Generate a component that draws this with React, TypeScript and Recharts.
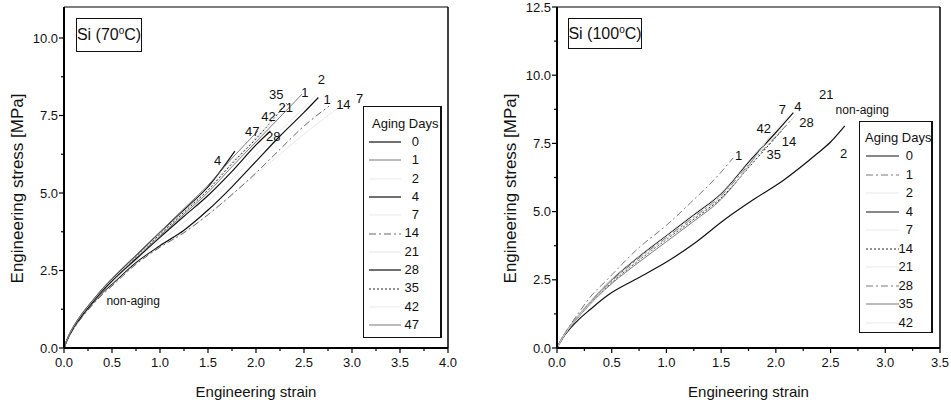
import { Legend, Line, LineChart, ReferenceDot, ReferenceLine, XAxis, YAxis } from 'recharts';

const FONT = '"Liberation Sans", Arial, sans-serif';

// Si (70°C): [strain, stress MPa]
const l0 = [[0, 0], [0.02, 0.16], [0.05, 0.37], [0.1, 0.64], [0.2, 1.07], [0.3, 1.44], [0.4, 1.78], [0.5, 2.05], [0.75, 2.75], [1.0, 3.3], [1.25, 3.8], [1.5, 4.45], [1.75, 5.2], [2.0, 6.02], [2.25, 6.84], [2.5, 7.6], [2.65, 8.08]];
const l1 = [[0, 0], [0.02, 0.17], [0.05, 0.39], [0.1, 0.67], [0.2, 1.12], [0.3, 1.5], [0.4, 1.86], [0.5, 2.18], [0.75, 2.9], [1.0, 3.62], [1.25, 4.32], [1.5, 5.02], [1.75, 5.85], [2.0, 6.65], [2.25, 7.45], [2.48, 8.19]];
const l2 = [[0, 0], [0.02, 0.16], [0.05, 0.37], [0.1, 0.65], [0.2, 1.09], [0.3, 1.46], [0.4, 1.81], [0.5, 2.1], [0.75, 2.82], [1.0, 3.45], [1.25, 4.05], [1.5, 4.72], [1.75, 5.45], [2.0, 6.25], [2.25, 7.0], [2.5, 7.75], [2.62, 8.15]];
const l4 = [[0, 0], [0.02, 0.18], [0.05, 0.4], [0.1, 0.69], [0.2, 1.15], [0.3, 1.53], [0.4, 1.9], [0.5, 2.22], [0.75, 2.98], [1.0, 3.72], [1.25, 4.45], [1.5, 5.2], [1.78, 6.35]];
const l7 = [[0, 0], [0.02, 0.15], [0.05, 0.35], [0.1, 0.62], [0.2, 1.05], [0.3, 1.41], [0.4, 1.74], [0.5, 2.02], [0.75, 2.72], [1.0, 3.26], [1.25, 3.74], [1.5, 4.3], [1.75, 4.95], [2.0, 5.6], [2.25, 6.25], [2.5, 6.9], [2.75, 7.5], [2.95, 7.95]];
const l14 = [[0, 0], [0.02, 0.15], [0.05, 0.35], [0.1, 0.62], [0.2, 1.04], [0.3, 1.4], [0.4, 1.72], [0.5, 2.0], [0.75, 2.7], [1.0, 3.25], [1.25, 3.72], [1.5, 4.3], [1.75, 4.95], [2.0, 5.65], [2.25, 6.41], [2.5, 7.16], [2.76, 7.8]];
const l21 = [[0, 0], [0.02, 0.17], [0.05, 0.39], [0.1, 0.68], [0.2, 1.13], [0.3, 1.51], [0.4, 1.87], [0.5, 2.19], [0.75, 2.93], [1.0, 3.66], [1.25, 4.36], [1.5, 5.08], [1.75, 5.92], [2.0, 6.72], [2.33, 7.75]];
const l28 = [[0, 0], [0.02, 0.17], [0.05, 0.38], [0.1, 0.66], [0.2, 1.1], [0.3, 1.48], [0.4, 1.84], [0.5, 2.16], [0.75, 2.87], [1.0, 3.57], [1.25, 4.25], [1.5, 4.92], [1.75, 5.7], [2.0, 6.55], [2.15, 7.0]];
const l35 = [[0, 0], [0.02, 0.17], [0.05, 0.39], [0.1, 0.68], [0.2, 1.13], [0.3, 1.52], [0.4, 1.88], [0.5, 2.2], [0.75, 2.94], [1.0, 3.67], [1.25, 4.38], [1.5, 5.1], [1.75, 5.95], [2.0, 6.75], [2.32, 7.9]];
const l42 = [[0, 0], [0.02, 0.18], [0.05, 0.4], [0.1, 0.69], [0.2, 1.14], [0.3, 1.52], [0.4, 1.89], [0.5, 2.2], [0.75, 2.95], [1.0, 3.7], [1.25, 4.42], [1.5, 5.15], [1.75, 6.0], [2.0, 6.8], [2.2, 7.45]];
const l47 = [[0, 0], [0.02, 0.18], [0.05, 0.4], [0.1, 0.7], [0.2, 1.16], [0.3, 1.54], [0.4, 1.91], [0.5, 2.24], [0.75, 3.0], [1.0, 3.75], [1.25, 4.5], [1.5, 5.25], [1.75, 6.12], [2.02, 7.0]];

// Si (100°C)
const r0 = [[0, 0], [0.05, 0.35], [0.1, 0.62], [0.2, 1.05], [0.3, 1.4], [0.47, 1.95], [0.71, 2.5], [1.0, 3.15], [1.26, 3.85], [1.53, 4.7], [1.8, 5.45], [2.07, 6.15], [2.37, 7.1], [2.5, 7.55], [2.63, 8.14]];
const r1 = [[0, 0], [0.05, 0.4], [0.1, 0.72], [0.2, 1.3], [0.3, 1.85], [0.457, 2.5], [0.75, 3.68], [1.0, 4.5], [1.22, 5.32], [1.5, 6.45], [1.61, 6.97]];
const r2 = [[0, 0], [0.05, 0.37], [0.1, 0.66], [0.2, 1.17], [0.365, 1.9], [0.5, 2.42], [0.75, 3.25], [1.0, 4.0], [1.25, 4.75], [1.5, 5.52], [1.77, 6.7], [2.1, 8.2]];
const r4 = [[0, 0], [0.05, 0.38], [0.1, 0.68], [0.2, 1.2], [0.365, 1.95], [0.5, 2.5], [0.75, 3.35], [1.0, 4.12], [1.25, 4.88], [1.5, 5.65], [1.77, 6.9], [2.0, 7.9], [2.16, 8.63]];
const r7 = [[0, 0], [0.05, 0.38], [0.1, 0.69], [0.2, 1.21], [0.365, 1.96], [0.5, 2.52], [0.75, 3.38], [1.0, 4.15], [1.25, 4.92], [1.5, 5.7], [1.77, 6.95], [2.12, 8.55]];
const r14 = [[0, 0], [0.05, 0.36], [0.1, 0.66], [0.2, 1.16], [0.365, 1.88], [0.5, 2.4], [0.75, 3.22], [1.0, 3.98], [1.25, 4.72], [1.5, 5.5], [1.77, 6.7], [2.05, 7.95]];
const r21 = [[0, 0], [0.05, 0.37], [0.1, 0.67], [0.2, 1.19], [0.365, 1.93], [0.5, 2.47], [0.75, 3.32], [1.0, 4.08], [1.25, 4.84], [1.5, 5.62], [1.77, 6.85], [2.2, 8.6]];
const r28 = [[0, 0], [0.05, 0.37], [0.1, 0.67], [0.2, 1.18], [0.365, 1.92], [0.5, 2.45], [0.75, 3.3], [1.0, 4.05], [1.25, 4.8], [1.5, 5.58], [1.77, 6.8], [2.0, 7.75], [2.15, 8.4]];
const r35 = [[0, 0], [0.05, 0.36], [0.1, 0.65], [0.2, 1.15], [0.365, 1.86], [0.5, 2.36], [0.75, 3.15], [1.0, 3.9], [1.25, 4.65], [1.5, 5.45], [1.7, 6.4], [1.86, 7.3]];
const r42 = [[0, 0], [0.05, 0.36], [0.1, 0.66], [0.2, 1.17], [0.365, 1.89], [0.5, 2.42], [0.75, 3.24], [1.0, 4.0], [1.25, 4.76], [1.5, 5.55], [1.77, 6.75], [1.95, 7.8]];

// tick values
const leftXTicks = [0, 0.25, 0.5, 0.75, 1, 1.25, 1.5, 1.75, 2, 2.25, 2.5, 2.75, 3, 3.25, 3.5, 3.75, 4];
const leftYTicks = [0, 1.25, 2.5, 3.75, 5, 6.25, 7.5, 8.75, 10];
const rightXTicks = [0, 0.25, 0.5, 0.75, 1, 1.25, 1.5, 1.75, 2, 2.25, 2.5, 2.75, 3, 3.25, 3.5];
const rightYTicks = [0, 1.25, 2.5, 3.75, 5, 6.25, 7.5, 8.75, 10, 11.25, 12.5];

// curve labels written on the plots
const leftNotes = [
  { t: '2', x: 2.68, y: 8.67 }, { t: '35', x: 2.21, y: 8.19 }, { t: '1', x: 2.51, y: 8.26 },
  { t: '21', x: 2.31, y: 7.75 }, { t: '42', x: 2.13, y: 7.48 }, { t: '47', x: 1.96, y: 7.0 },
  { t: '28', x: 2.18, y: 6.84 }, { t: '4', x: 1.6, y: 6.06 }, { t: '1', x: 2.74, y: 8.02 },
  { t: '14', x: 2.91, y: 7.86 }, { t: '7', x: 3.08, y: 8.05 },
];
const rightNotes = [
  { t: '21', x: 2.46, y: 9.3 }, { t: '7', x: 2.06, y: 8.74 }, { t: '4', x: 2.2, y: 8.86 },
  { t: '28', x: 2.28, y: 8.27 }, { t: '42', x: 1.89, y: 8.05 }, { t: '14', x: 2.12, y: 7.59 },
  { t: '1', x: 1.66, y: 7.05 }, { t: '35', x: 1.98, y: 7.11 }, { t: '2', x: 2.62, y: 7.15 },
];

type Style = { stroke: string; width: number; dash?: string };
const SOLID: Style = { stroke: '#111', width: 1.2 };
const GREY: Style = { stroke: '#6a6a6a', width: 0.9 };
const GREY_DD: Style = { stroke: '#6a6a6a', width: 0.9, dash: '7 3 2 3' };
const DASHDOT: Style = { stroke: '#555', width: 0.9, dash: '7 3 2 3' };
const DOTTED: Style = { stroke: '#222', width: 1, dash: '2 2' };
const FAINT: Style = { stroke: '#e2e2e2', width: 0.8 };

type Series = { name: string; pts: number[][]; st: Style };

const leftSeries: Series[] = [
  { name: '0', pts: l0, st: SOLID }, { name: '1', pts: l1, st: GREY }, { name: '2', pts: l2, st: FAINT },
  { name: '4', pts: l4, st: SOLID }, { name: '7', pts: l7, st: FAINT }, { name: '14', pts: l14, st: DASHDOT },
  { name: '21', pts: l21, st: FAINT }, { name: '28', pts: l28, st: SOLID }, { name: '35', pts: l35, st: DOTTED },
  { name: '42', pts: l42, st: FAINT }, { name: '47', pts: l47, st: GREY },
];
const rightSeries: Series[] = [
  { name: '0', pts: r0, st: SOLID }, { name: '1', pts: r1, st: GREY_DD }, { name: '2', pts: r2, st: FAINT },
  { name: '4', pts: r4, st: SOLID }, { name: '7', pts: r7, st: FAINT }, { name: '14', pts: r14, st: DOTTED },
  { name: '21', pts: r21, st: FAINT }, { name: '28', pts: r28, st: GREY_DD }, { name: '35', pts: r35, st: GREY },
  { name: '42', pts: r42, st: FAINT },
];

function XTick(p: any) {
  const v = p.payload.value;
  const major = Math.abs(v * 2 - Math.round(v * 2)) < 1e-6;
  return (
    <g>
      <line x1={p.x} x2={p.x} y1={p.y} y2={p.y + (major ? 5 : 3)} stroke="#000" strokeWidth={1.2} />
      {major && (
        <text x={p.x} y={p.y + 19} textAnchor="middle" fontSize={13} fontFamily={FONT} fill="#111">{v.toFixed(1)}</text>
      )}
    </g>
  );
}

function YTick(p: any) {
  const v = p.payload.value;
  const major = Math.abs(v / 2.5 - Math.round(v / 2.5)) < 1e-6;
  return (
    <g>
      <line x1={p.x} x2={p.x - (major ? 5 : 3)} y1={p.y} y2={p.y} stroke="#000" strokeWidth={1.2} />
      {major && (
        <text x={p.x - 6} y={p.y + 4.5} textAnchor="end" fontSize={13} fontFamily={FONT} fill="#111">{v.toFixed(1)}</text>
      )}
    </g>
  );
}

function AgingLegend({ items, w, h, lineX, lineW, numRight, titleX, rowH, padTop }: any) {
  return (
    <div style={{ width: w, height: h, boxSizing: 'border-box', border: '1px solid #111', borderRight: '2px solid #111', background: '#fff', fontFamily: FONT, fontSize: 13, color: '#111', paddingTop: padTop, position: 'relative' }}>
      <div style={{ height: 18, lineHeight: '18px', paddingLeft: titleX, whiteSpace: 'nowrap' }}>Aging Days</div>
      {items.map((s: Series) => (
        <div key={s.name} style={{ height: rowH, position: 'relative' }}>
          <svg width={lineW + 2} height={6} style={{ position: 'absolute', left: lineX, top: rowH / 2 - 3 }}>
            <line x1={0} x2={lineW} y1={3} y2={3} stroke={s.st.stroke} strokeWidth={s.st.width} strokeDasharray={s.st.dash} />
          </svg>
          <span style={{ position: 'absolute', right: w - numRight, top: 0, lineHeight: `${rowH}px` }}>{s.name}</span>
        </div>
      ))}
    </div>
  );
}

function TitleBox({ left, top, w, h, temp }: any) {
  return (
    <div style={{ position: 'absolute', left, top, width: w, height: h, boxSizing: 'border-box', border: '1px solid #111', background: '#fff', fontFamily: FONT, fontSize: 16, color: '#111', display: 'flex', alignItems: 'center', justifyContent: 'center', whiteSpace: 'nowrap' }}>
      <span>Si ({temp}<span style={{ fontSize: 10, position: 'relative', top: -6 }}>o</span>C)</span>
    </div>
  );
}

function StressChart({ width, marginRight, yWidth, xMax, yMax, xTicks, yTicks, series, notes, nonAging, yLabelX, legendBox, titleBox, temp }: any) {
  return (
    <div style={{ position: 'relative', width, height: 405 }}>
      <LineChart width={width} height={405} margin={{ top: 7, right: marginRight, bottom: 0, left: 0 }}>
        <XAxis
          dataKey="x" type="number" domain={[0, xMax]} ticks={xTicks} interval={0}
          tickSize={0} tickMargin={0} tickLine={false} tick={XTick} height={57}
          axisLine={{ stroke: '#000', strokeWidth: 2 }}
          label={{ value: 'Engineering strain', position: 'insideBottom', offset: 8, fontSize: 15, fontFamily: FONT, fill: '#111' }}
        />
        <YAxis
          dataKey="y" type="number" domain={[0, yMax]} ticks={yTicks} interval={0}
          tickSize={0} tickMargin={0} tickLine={false} tick={YTick} width={yWidth}
          axisLine={{ stroke: '#000', strokeWidth: 2 }}
          label={(p: any) => {
            const vb = p.viewBox;
            return (
              <text transform={`translate(${yLabelX}, ${vb.y + vb.height / 2 + 11}) rotate(-90)`} textAnchor="middle" dominantBaseline="central" fontSize={17} fontFamily={FONT} fill="#111">
                Engineering stress [MPa]
              </text>
            );
          }}
        />
        <ReferenceLine y={yMax} stroke="#000" strokeWidth={1.2} />
        <ReferenceLine x={xMax} stroke="#000" strokeWidth={1.5} />
        {series.map((s: Series) => (
          <Line
            key={s.name} name={s.name} data={s.pts.map(([x, y]) => ({ x, y }))} dataKey="y"
            type="monotone" stroke={s.st.stroke} strokeWidth={s.st.width} strokeDasharray={s.st.dash}
            dot={false} activeDot={false} isAnimationActive={false}
          />
        ))}
        {notes.map((n: any, i: number) => (
          <ReferenceDot key={i} x={n.x} y={n.y} r={0} fill="none" stroke="none"
            label={{ value: n.t, position: 'center', fontSize: 13, fontFamily: FONT, fill: '#111' }} />
        ))}
        <ReferenceDot x={nonAging.x} y={nonAging.y} r={0} fill="none" stroke="none"
          label={{ value: 'non-aging', position: 'center', fontSize: 12, fontFamily: FONT, fill: '#111' }} />
        <Legend
          layout="vertical" align="center" verticalAlign="middle"
          wrapperStyle={{ left: legendBox.left, top: legendBox.top, width: legendBox.w, height: legendBox.h }}
          content={() => <AgingLegend items={series} {...legendBox} />}
        />
      </LineChart>
      <TitleBox {...titleBox} temp={temp} />
    </div>
  );
}

export default function App() {
  return (
    <div style={{ position: 'absolute', left: 0, top: 0, width: 951, height: 405, display: 'flex', background: '#fff' }}>
      <StressChart
        width={470} marginRight={22} yWidth={64} xMax={4} yMax={11}
        xTicks={leftXTicks} yTicks={leftYTicks} series={leftSeries} notes={leftNotes}
        nonAging={{ x: 0.72, y: 1.54 }} yLabelX={17} temp="70"
        legendBox={{ left: 363, top: 106, w: 79, h: 232, lineX: 5, lineW: 32, numRight: 58, titleX: 8, rowH: 18.3, padTop: 8 }}
        titleBox={{ left: 76, top: 18, w: 66, h: 34 }}
      />
      <StressChart
        width={481} marginRight={11} yWidth={87} xMax={3.5} yMax={12.5}
        xTicks={rightXTicks} yTicks={rightYTicks} series={rightSeries} notes={rightNotes}
        nonAging={{ x: 2.79, y: 8.75 }} yLabelX={40} temp="100"
        legendBox={{ left: 389, top: 121, w: 74, h: 212, lineX: 6, lineW: 33, numRight: 56, titleX: 5, rowH: 18.5, padTop: 7 }}
        titleBox={{ left: 98, top: 18, w: 74, h: 31 }}
      />
    </div>
  );
}
